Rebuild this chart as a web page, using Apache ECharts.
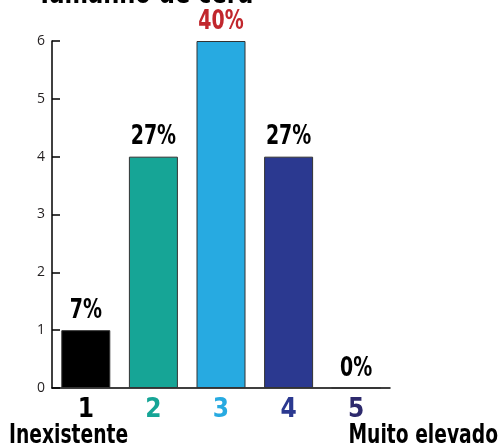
<!DOCTYPE html>
<html>
<head>
<meta charset="utf-8">
<script src="https://cdn.jsdelivr.net/npm/echarts@6/dist/echarts.min.js"></script>
<style>
  html, body { margin: 0; padding: 0; background: #fff; }
  #main { width: 498px; height: 445px; }
</style>
</head>
<body>
<div id="main"></div>
<script>
// data
var categories = ['1', '2', '3', '4', '5'];
var values = [1, 4, 6, 4, 0];
var percentLabels = ['7%', '27%', '40%', '27%', '0%'];
var yTicks = [0, 1, 2, 3, 4, 5, 6];

var barColors = ['#000000', '#16a596', '#27aae1', '#2b3990', '#2b3990'];
var catColors = ['#000000', '#16a596', '#27aae1', '#2b3990', '#2e2a6d'];
var labelColors = ['#000', '#000', '#c1272d', '#000', '#000'];

var narrow = "'DejaVu Sans Condensed', 'Liberation Sans Narrow', sans-serif";

var chart = echarts.init(document.getElementById('main'));

var option = {
  animation: false,
  backgroundColor: '#fff',
  grid: { left: 52, right: 108, top: 41, bottom: 57 },
  xAxis: {
    type: 'category',
    data: categories.map(function (c, i) {
      return { value: c, textStyle: { color: catColors[i] } };
    }),
    axisLine: { lineStyle: { color: '#000', width: 1.5 } },
    axisTick: { inside: true, length: 8, lineStyle: { color: '#000', width: 1.5 } },
    axisLabel: {
      fontFamily: narrow, fontWeight: 'bold', fontSize: 26, margin: 9
    }
  },
  yAxis: {
    type: 'value',
    min: 0, max: 6, interval: 1,
    splitLine: { show: false },
    axisLine: { show: true, lineStyle: { color: '#000', width: 1.5 } },
    axisTick: { show: true, inside: true, length: 8, lineStyle: { color: '#000', width: 1.5 } },
    axisLabel: {
      color: '#231f20', fontFamily: 'Open Sans, sans-serif', fontSize: 14, margin: 7,
      formatter: function (v) { return yTicks.indexOf(v) >= 0 ? String(v) : ''; }
    }
  },
  series: [{
    type: 'bar',
    barWidth: 49,
    data: values.map(function (v, i) {
      return {
        value: v,
        itemStyle: { color: barColors[i], borderColor: '#333', borderWidth: 1 }
      };
    })
  }, {
    // percentage labels, condensed by scaling
    type: 'custom',
    data: values.map(function (v, i) { return [i, v]; }),
    renderItem: function (params, api) {
      var pt = api.coord([api.value(0), api.value(1)]);
      var i = params.dataIndex;
      return {
        type: 'text',
        x: pt[0], y: pt[1] - 6,
        scaleX: 0.78,
        style: {
          text: percentLabels[i],
          font: 'bold 27px ' + narrow,
          fill: labelColors[i],
          align: 'center',
          verticalAlign: 'bottom'
        }
      };
    }
  }],
  graphic: [
    {
      type: 'text', x: 37, y: -21, scaleX: 0.81,
      style: { text: 'Tamanho de cera', font: 'bold 31px ' + narrow, fill: '#000' }
    },
    {
      type: 'text', x: 9, y: 423, scaleX: 0.8,
      style: { text: 'Inexistente', font: 'bold 26px ' + narrow, fill: '#000' }
    },
    {
      type: 'text', x: 498, y: 423, scaleX: 0.8,
      style: { text: 'Muito elevado', font: 'bold 26px ' + narrow, fill: '#000', align: 'right' }
    }
  ]
};

chart.setOption(option);
</script>
</body>
</html>
